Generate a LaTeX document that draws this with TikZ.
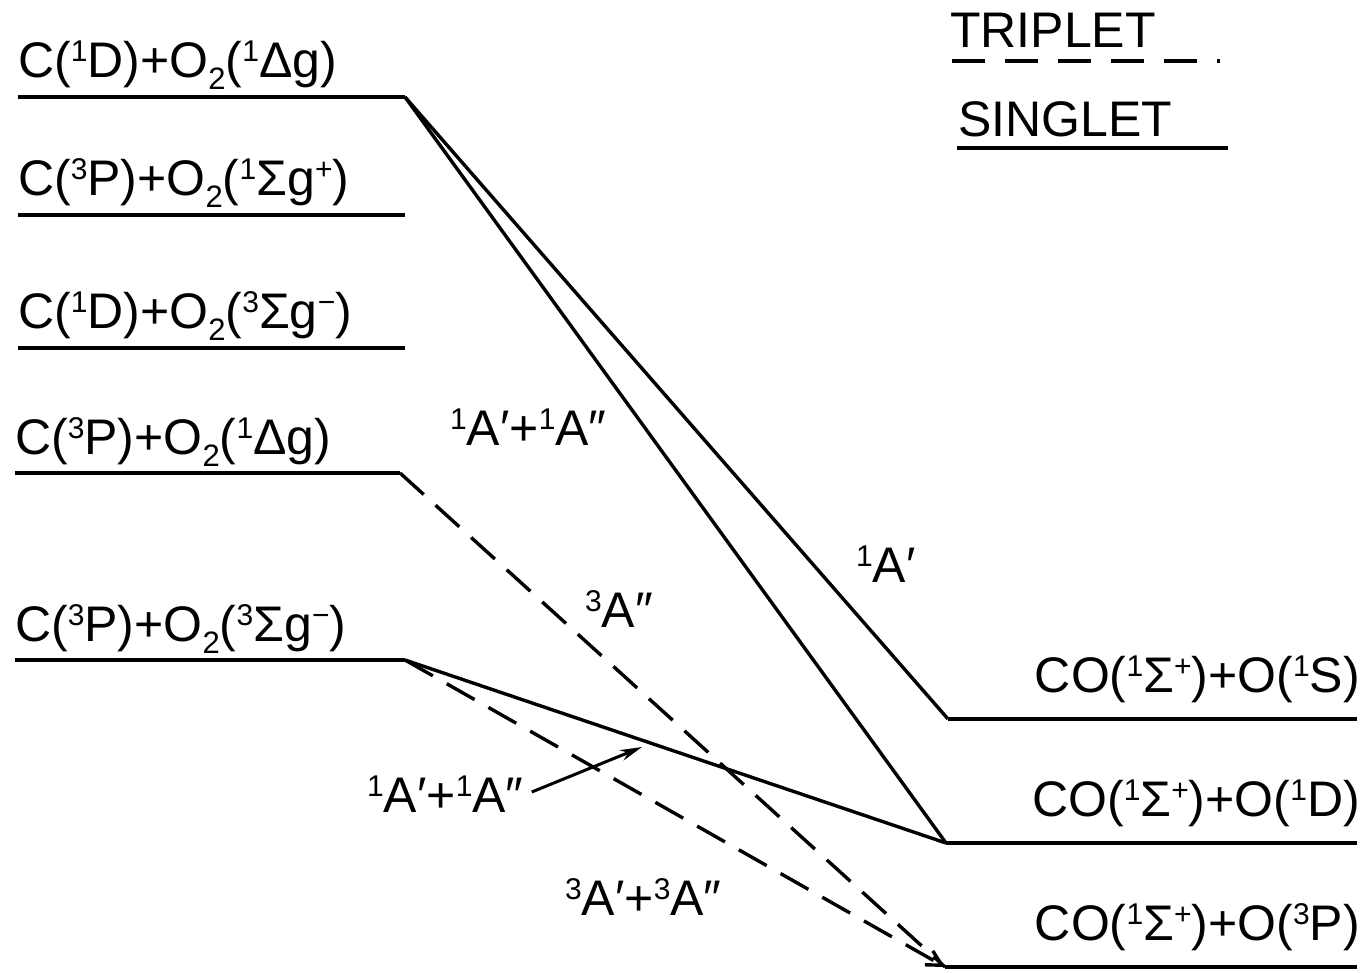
\documentclass[tikz,border=0pt]{standalone}
\usepackage{fontspec}
\setmainfont{Liberation Sans}
\usetikzlibrary{arrows.meta}
\newcommand\upsc[1]{\raisebox{16pt}{\fontsize{30}{30}\selectfont #1}}
\newcommand\dnsc[1]{\raisebox{-12pt}{\fontsize{31}{31}\selectfont #1}}
\begin{document}
\begin{tikzpicture}[x=1pt,y=-1pt,
  lvl/.style={line width=3.8pt},
  conn/.style={line width=3.4pt},
  trip/.style={line width=3.4pt,dash pattern=on 32pt off 16pt},
  lab/.style={anchor=base west,inner sep=0pt,font=\fontsize{50}{50}\selectfont},
  rlab/.style={anchor=base east,inner sep=0pt,font=\fontsize{50}{50}\selectfont},
]
\useasboundingbox (0,0) rectangle (1365,973);
% left levels
\coordinate (L1a) at (18,97);  \coordinate (L1) at (405,97);
\coordinate (L2a) at (18,215); \coordinate (L2) at (405,215);
\coordinate (L3a) at (18,348); \coordinate (L3) at (405,348);
\coordinate (L4a) at (15,473); \coordinate (L4) at (400,473);
\coordinate (L5a) at (15,660); \coordinate (L5) at (405,660);
% right levels
\coordinate (R1) at (948,719); \coordinate (R1b) at (1357,719);
\coordinate (R2) at (946,843); \coordinate (R2b) at (1357,843);
\coordinate (R3) at (945,967); \coordinate (R3b) at (1357,967);
\draw[lvl] (L1a) -- (L1);
\draw[lvl] (L2a) -- (L2);
\draw[lvl] (L3a) -- (L3);
\draw[lvl] (L4a) -- (L4);
\draw[lvl] (L5a) -- (L5);
\draw[lvl] (R1) -- (R1b);
\draw[lvl] (R2) -- (R2b);
\draw[lvl] (R3) -- (R3b);
% level labels
\node[lab] (t1) at (18,78) {C(\upsc{1}D)+O\dnsc{2}(\upsc{1}Δg)};
\node[lab] (t2) at (18,196) {C(\upsc{3}P)+O\dnsc{2}(\upsc{1}Σg\upsc{+})};
\node[lab] (t3) at (18,329) {C(\upsc{1}D)+O\dnsc{2}(\upsc{3}Σg\upsc{−})};
\node[lab] (t4) at (15,454) {C(\upsc{3}P)+O\dnsc{2}(\upsc{1}Δg)};
\node[lab] (t5) at (15,641) {C(\upsc{3}P)+O\dnsc{2}(\upsc{3}Σg\upsc{−})};
\node[rlab] (r1) at (1360,692) {CO(\upsc{1}Σ\upsc{+})+O(\upsc{1}S)};
\node[rlab] (r2) at (1360,816) {CO(\upsc{1}Σ\upsc{+})+O(\upsc{1}D)};
\node[rlab] (r3) at (1360,940) {CO(\upsc{1}Σ\upsc{+})+O(\upsc{3}P)};
% connectors
\draw[conn] (L1) -- (R1);
\draw[conn] (L1) -- (R2);
\draw[conn] (L5) -- (R2);
\draw[trip] (L4) -- (R3);
\draw[trip,-{Straight Barb[length=15pt,width=16pt]}] (L5) -- (R3);
% connector labels
\node[lab] (c1) at (450,445) {\upsc{1}A′+\upsc{1}A″};
\node[lab] (c2) at (856,582) {\upsc{1}A′};
\node[lab] (c3) at (585,627) {\upsc{3}A″};
\node[lab] (c4) at (367,812) {\upsc{1}A′+\upsc{1}A″};
\node[lab] (c5) at (565,915) {\upsc{3}A′+\upsc{3}A″};
\coordinate (c4tip) at (642,747);
\draw[conn,line width=3pt,-{Stealth[length=22pt,width=11pt]}] ([shift={(8,-20)}]c4.base east) -- (c4tip);
% legend
\node[lab] (trip) at (950,48) {TRIPLET};
\node[lab] (sing) at (958,137) {SINGLET};
\coordinate (tr1) at (952,61); \coordinate (tr2) at (1220,61);
\coordinate (sg1) at (957,148); \coordinate (sg2) at (1228,148);
\draw[trip,dash pattern=on 33pt off 20pt] (tr1) -- (tr2);
\draw[lvl] (sg1) -- (sg2);
\end{tikzpicture}
\end{document}
